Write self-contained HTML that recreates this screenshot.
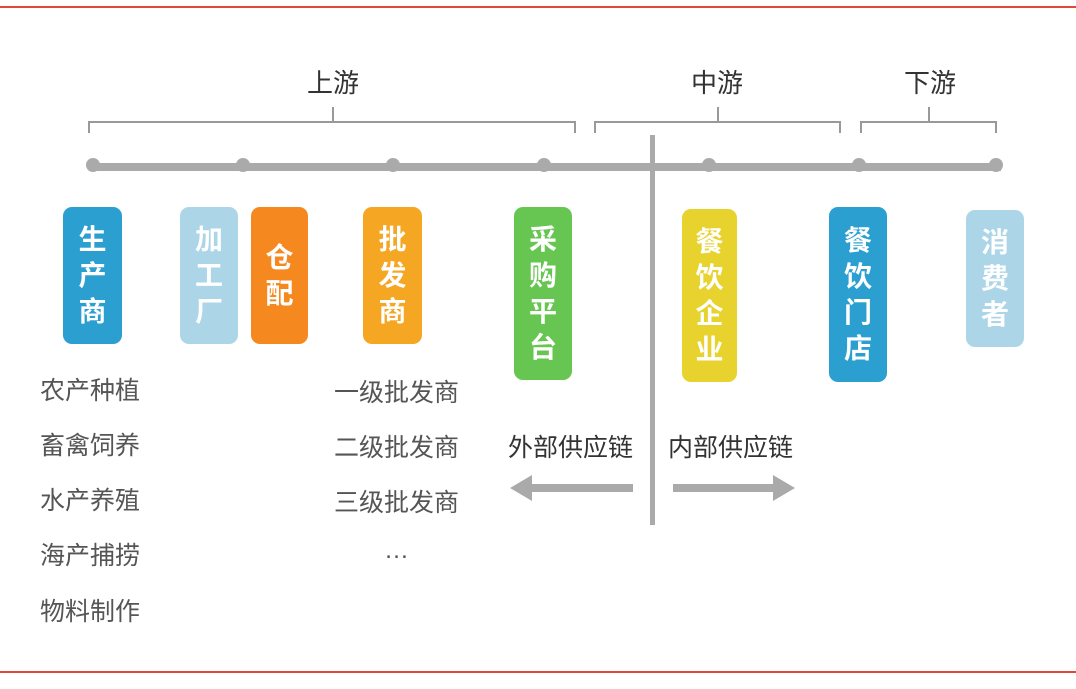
<!DOCTYPE html>
<html><head><meta charset="utf-8"><style>
body{margin:0;width:1076px;height:689px;background:#fff;position:relative;overflow:hidden;font-family:"Liberation Sans","Noto Sans CJK SC",sans-serif}
.b{position:absolute;border-radius:9px;color:#fff;font-size:28px;line-height:36px;text-align:center;display:flex;flex-direction:column;justify-content:center;font-weight:bold}
.t{position:absolute;font-size:25px;color:#555;white-space:nowrap}
.h{position:absolute;font-size:26px;color:#333;transform:translateX(-50%)}
</style></head><body>
<div style="position:absolute;left:0;top:6px;width:1076px;height:2px;background:#e0483a"></div>
<div style="position:absolute;left:0;top:671px;width:1076px;height:2px;background:#e0483a"></div>
<svg width="1076" height="689" style="position:absolute;left:0;top:0">
<g fill="none" stroke="#999" stroke-width="2">
<path d="M89 133V122H575V133M333 122V107"/>
<path d="M595 133V122H840V133M718 122V107"/>
<path d="M861 133V122H996V133M929 122V107"/>
</g>
<rect x="93" y="163" width="908" height="8" fill="#aaa"/>
<g fill="#aaa">
<circle cx="93" cy="165" r="7"/><circle cx="243" cy="165" r="7"/><circle cx="393" cy="165" r="7"/><circle cx="544" cy="165" r="7"/><circle cx="709" cy="165" r="7"/><circle cx="859" cy="165" r="7"/><circle cx="996" cy="165" r="7"/>
</g>
<rect x="650" y="135" width="5" height="390" fill="#aaa"/>
<rect x="530" y="484" width="103" height="8" fill="#aaa"/><polygon points="510,488 532,475 532,501" fill="#aaa"/>
<rect x="673" y="484" width="102" height="8" fill="#aaa"/><polygon points="795,488 773,475 773,501" fill="#aaa"/>
</svg>
<div class="h" style="left:333px;top:63px">上游</div>
<div class="h" style="left:717px;top:63px">中游</div>
<div class="h" style="left:930px;top:63px">下游</div>
<div class="b" style="left:63px;top:207px;width:59px;height:137px;background:#2a9fd0">生<br>产<br>商</div>
<div class="b" style="left:180px;top:207px;width:58px;height:137px;background:#acd6e8">加<br>工<br>厂</div>
<div class="b" style="left:251px;top:207px;width:57px;height:137px;background:#f5891f">仓<br>配</div>
<div class="b" style="left:363px;top:207px;width:59px;height:137px;background:#f5a623">批<br>发<br>商</div>
<div class="b" style="left:514px;top:207px;width:58px;height:173px;background:#67c651">采<br>购<br>平<br>台</div>
<div class="b" style="left:682px;top:209px;width:55px;height:173px;background:#e8d22e">餐<br>饮<br>企<br>业</div>
<div class="b" style="left:829px;top:207px;width:58px;height:175px;background:#2a9fd0">餐<br>饮<br>门<br>店</div>
<div class="b" style="left:966px;top:210px;width:58px;height:137px;background:#acd6e8">消<br>费<br>者</div>
<div class="t" style="left:40px;top:371px">农产种植</div>
<div class="t" style="left:40px;top:426px">畜禽饲养</div>
<div class="t" style="left:40px;top:481px">水产养殖</div>
<div class="t" style="left:40px;top:536px">海产捕捞</div>
<div class="t" style="left:40px;top:592px">物料制作</div>
<div class="t" style="left:334px;top:373px">一级批发商</div>
<div class="t" style="left:334px;top:428px">二级批发商</div>
<div class="t" style="left:334px;top:483px">三级批发商</div>
<div class="t" style="left:384px;top:536px">…</div>
<div class="t" style="left:508px;top:428px;color:#333">外部供应链</div>
<div class="t" style="left:668px;top:428px;color:#333">内部供应链</div>
</body></html>
